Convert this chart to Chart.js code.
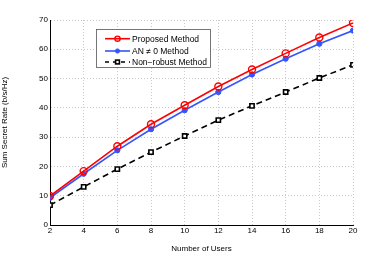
<!DOCTYPE html>
<html>
<head>
<meta charset="utf-8">
<script src="https://cdn.jsdelivr.net/npm/chart.js@4"></script>
<style>
  html, body { margin: 0; padding: 0; background: #fff; }
  #wrap { width: 389px; height: 254px; }
</style>
</head>
<body>
<div id="wrap"><canvas id="myChart" width="389" height="254"></canvas></div>
<script>
var users = [2, 4, 6, 8, 10, 12, 14, 16, 18, 20];
var proposed = [9.9, 18.4, 26.9, 34.4, 40.9, 47.3, 53.1, 58.6, 64.0, 69.0];
var anNonZero = [9.3, 17.5, 25.5, 32.7, 39.2, 45.4, 51.4, 56.8, 61.9, 66.4];
var nonRobust = [6.8, 13.0, 19.1, 24.9, 30.4, 35.8, 40.7, 45.4, 50.2, 54.7];
var yTicks = [0, 10, 20, 30, 40, 50, 60, 70];
var seriesNames = ['Proposed Method', 'AN \u2260 0 Method', 'Non\u2212robust Method'];

function toPoints(arr) {
    return arr.map(function(v, i) { return { x: users[i], y: v }; });
}

var FONT = 'Liberation Sans, Arial, sans-serif';

// legend box drawn inside the plot, like the matlab figure
var legendBox = {
    id: 'legendBox',
    afterDraw: function(chart) {
        var ctx = chart.ctx;
        var x0 = 96.5, y0 = 29.5, w = 114, h = 38;
        ctx.save();
        ctx.fillStyle = '#fff';
        ctx.fillRect(x0, y0, w, h);
        ctx.strokeStyle = '#555';
        ctx.lineWidth = 0.8;
        ctx.strokeRect(x0, y0, w, h);
        var rows = [38.7, 51, 62];
        var legSize = [2.6, 2.1, 3.8];
        chart.data.datasets.forEach(function(ds, i) {
            var y = rows[i];
            ctx.strokeStyle = ds.borderColor;
            ctx.lineWidth = ds.borderWidth;
            ctx.setLineDash(ds.borderDash ? [4, 4] : []);
            ctx.beginPath();
            ctx.moveTo(105, y);
            ctx.lineTo(130, y);
            ctx.stroke();
            ctx.setLineDash([]);
            ctx.lineWidth = ds.pointBorderWidth;
            ctx.strokeStyle = ds.pointBorderColor;
            ctx.fillStyle = ds.pointBackgroundColor;
            if (ds.pointStyle === 'rect') {
                var s = legSize[i];
                ctx.fillStyle = '#fff';
                ctx.fillRect(117.5 - s / 2, y - s / 2, s, s);
                ctx.strokeRect(117.5 - s / 2, y - s / 2, s, s);
            } else {
                ctx.beginPath();
                ctx.arc(117.5, y, legSize[i], 0, Math.PI * 2);
                ctx.fill();
                ctx.stroke();
            }
            ctx.fillStyle = '#000';
            ctx.font = '8.5px ' + FONT;
            ctx.textBaseline = 'middle';
            ctx.fillText(ds.label, 132, y + 0.5);
        });
        ctx.restore();
    }
};

var gridOpts = {
    color: '#bdbdbd',
    lineWidth: 0.8,
    tickLength: 0,
    drawTicks: false
};

new Chart(document.getElementById('myChart'), {
    type: 'line',
    data: {
        datasets: [{
            label: seriesNames[0],
            data: toPoints(proposed),
            borderColor: '#ff0000',
            borderWidth: 1.6,
            pointStyle: 'circle',
            pointRadius: 3.5,
            pointBorderWidth: 1.4,
            pointBorderColor: '#ff0000',
            pointBackgroundColor: 'rgba(255,255,255,0)'
        }, {
            label: seriesNames[1],
            data: toPoints(anNonZero),
            borderColor: '#3355ff',
            borderWidth: 1.6,
            pointStyle: 'circle',
            pointRadius: 2.6,
            pointBorderWidth: 1,
            pointBorderColor: '#3355ff',
            pointBackgroundColor: '#3355ff'
        }, {
            label: seriesNames[2],
            data: toPoints(nonRobust),
            borderColor: '#000000',
            borderWidth: 1.6,
            borderDash: [6, 4],
            pointStyle: 'rect',
            pointRadius: 3,
            pointBorderWidth: 1.6,
            pointBorderColor: '#000000',
            pointBackgroundColor: '#ffffff'
        }]
    },
    options: {
        responsive: false,
        animation: false,
        layout: { padding: { top: 20, right: 36, left: 0, bottom: 0 } },
        plugins: {
            legend: { display: false },
            tooltip: { enabled: false }
        },
        scales: {
            x: {
                type: 'linear',
                min: 2,
                max: 20,
                afterFit: function(axis) { axis.height = 29; },
                ticks: {
                    stepSize: 2,
                    color: '#000',
                    padding: 1,
                    font: { family: FONT, size: 8 }
                },
                grid: gridOpts,
                border: { display: true, color: '#000', width: 1, dash: [1, 2] },
                title: {
                    display: true,
                    text: 'Number of Users',
                    color: '#000',
                    padding: { top: 1, bottom: 0 },
                    font: { family: FONT, size: 8 }
                }
            },
            y: {
                min: 0,
                max: 70,
                afterFit: function(axis) { axis.width = 50; },
                afterBuildTicks: function(axis) {
                    axis.ticks = yTicks.map(function(v) { return { value: v }; });
                },
                ticks: {
                    color: '#000',
                    padding: 2,
                    font: { family: FONT, size: 8 }
                },
                grid: gridOpts,
                border: { display: true, color: '#000', width: 1, dash: [1, 2] },
                title: {
                    display: true,
                    text: 'Sum Secret Rate (b/s/Hz)',
                    color: '#000',
                    padding: { top: 0, bottom: 4 },
                    font: { family: FONT, size: 8 }
                }
            }
        }
    },
    plugins: [legendBox]
});
</script>
</body>
</html>
